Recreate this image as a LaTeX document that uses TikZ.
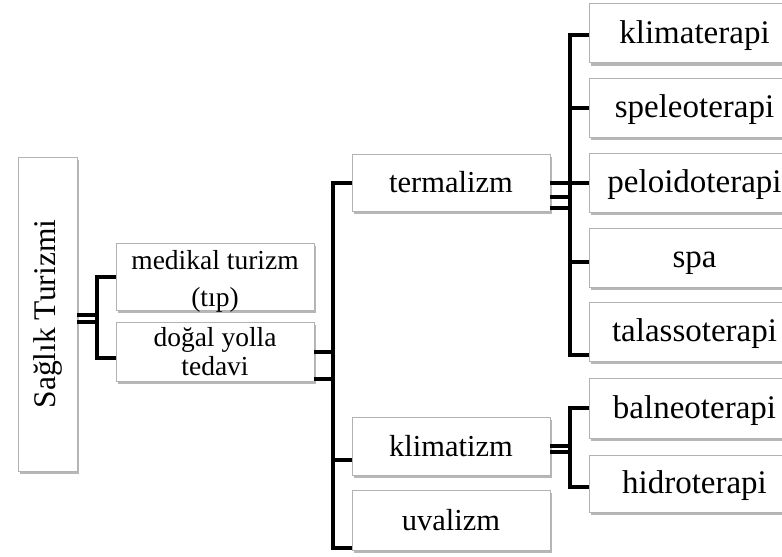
\documentclass[tikz,border=0pt]{standalone}
\usepackage{fontspec}
\setmainfont{Liberation Serif}
\usetikzlibrary{calc,shadows}

\begin{document}
\begin{tikzpicture}[x=1pt,y=-1pt,
    kutu/.style={draw=gray!60,line width=0.8pt,fill=white,inner sep=0pt,
      drop shadow={shadow xshift=1.5pt,shadow yshift=-3pt,fill=gray!80,opacity=0.7},
      minimum width=198pt,minimum height=59pt,font=\fontsize{30.5}{34}\selectfont},
    tek/.style={kutu,text height=24pt,text depth=4pt},
    kucuk/.style={kutu,align=center,font=\fontsize{27.5}{30}\selectfont},
    sag/.style={tek,minimum width=211pt,font=\fontsize{33}{36}\selectfont},
    kol/.style={line width=4pt,line join=miter}]
  \clip (0,0) rectangle (782,557);

  \node[kucuk,minimum width=59pt,minimum height=314pt,font=\fontsize{31.5}{36}\selectfont] (saglik) at (47.5,314) {\rotatebox{90}{Sağlık Turizmi}};
  \node[kucuk] (medikal) at (215,276.5) {\raisebox{-5pt}[\height][\depth]{\begin{tabular}{@{}c@{}}medikal turizm\\[7pt](tıp)\end{tabular}}};
  \node[kucuk,font=\fontsize{27.5}{29}\selectfont] (dogal) at (215,351.5) {doğal yolla\\tedavi};

  \node[tek,minimum height=57pt] (termalizm) at (451,182.5) {termalizm};
  \node[tek,minimum height=58pt] (klimatizm) at (451,446) {klimatizm};
  \node[tek,minimum height=60pt] (uvalizm) at (451,520) {uvalizm};

  \node[sag] (klimaterapi) at (694.5,33) {klimaterapi};
  \node[sag] (speleoterapi) at (694.5,107.5) {speleoterapi};
  \node[sag] (peloidoterapi) at (694.5,182.5) {peloidoterapi};
  \node[sag] (spa) at (694.5,257.5) {spa};
  \node[sag] (talassoterapi) at (694.5,331.5) {talassoterapi};
  \node[sag,minimum height=60pt] (balneoterapi) at (694.5,408) {balneoterapi};
  \node[sag,minimum height=57pt] (hidroterapi) at (694.5,483.5) {hidroterapi};

  % Sağlık Turizmi
  \draw[kol] (saglik.east) ++(0,1) -- ++(20,0);
  \draw[kol] (saglik.east) ++(0,7.5) -- ++(20,0);
  \draw[kol] (medikal.west) -- ++(-19,0) |- ($(dogal.west)+(0,6.5)$);

  % doğal yolla tedavi
  \draw[kol] (dogal.east) ++(0,0.5) -- ++(19,0);
  \draw[kol] (dogal.east) ++(0,27.5) -- ++(19,0);
  \draw[kol] (termalizm.west) -- ++(-19,0) |- ($(uvalizm.west)+(0,28)$);
  \draw[kol] (klimatizm.west) ++(0,14) -- ++(-19,0);

  % termalizm
  \draw[kol] (termalizm.east) ++(0,0.5) -- ++(20,0);
  \draw[kol] (termalizm.east) ++(0,14.5) -- ++(20,0);
  \draw[kol] (termalizm.east) ++(0,25.5) -- ++(20,0);
  \draw[kol] (klimaterapi.west) ++(0,2) -- ++(-19,0) |- ($(talassoterapi.west)+(0,23.5)$);
  \draw[kol] (speleoterapi.west) -- ++(-19,0);
  \draw[kol] (peloidoterapi.west) -- ++(-19,0);
  \draw[kol] (spa.west) ++(0,4.5) -- ++(-19,0);

  % klimatizm
  \draw[kol] (klimatizm.east) -- ++(20,0);
  \draw[kol] (klimatizm.east) ++(0,5.5) -- ++(20,0);
  \draw[kol] (balneoterapi.west) -- ++(-19,0) |- ($(hidroterapi.west)+(0,3.5)$);
\end{tikzpicture}
\end{document}
